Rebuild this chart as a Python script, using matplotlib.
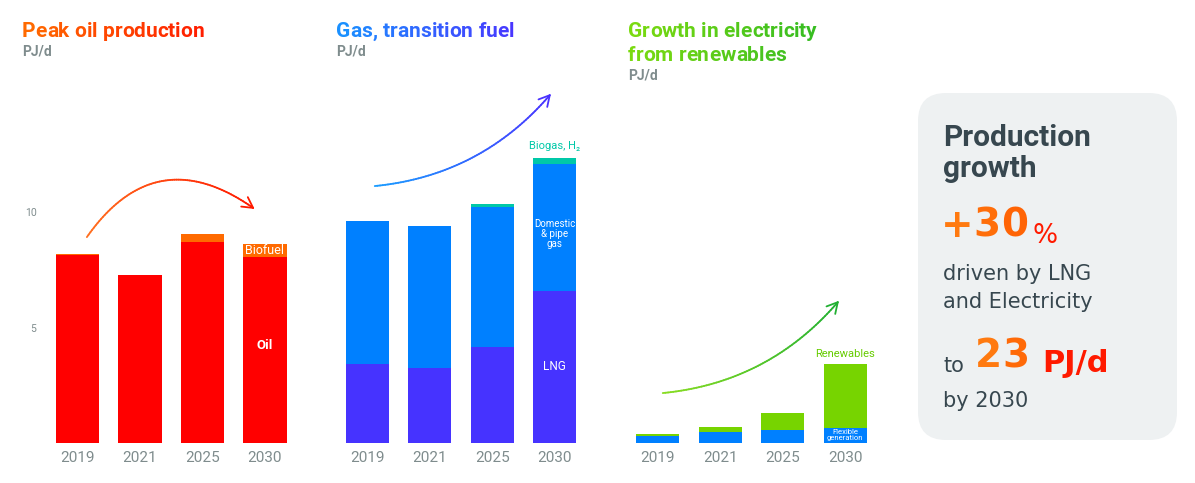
import numpy as np
import matplotlib
matplotlib.use("Agg")
import matplotlib.pyplot as plt
from matplotlib.patches import FancyBboxPatch
from matplotlib.collections import LineCollection
from matplotlib.colors import to_rgb
from matplotlib.transforms import IdentityTransform

plt.rcParams['font.family'] = ['Roboto', 'DejaVu Sans']

# data (PJ/d)
years = ['2019', '2021', '2025', '2030']
oil = [8.15, 7.28, 8.72, 8.08]
biofuel = [0.05, 0.0, 0.33, 0.53]
lng = [3.41, 3.24, 4.17, 6.60]
domestic = [6.22, 6.17, 6.07, 5.52]
biogas = [0.0, 0.0, 0.13, 0.26]
flexible = [0.30, 0.46, 0.56, 0.64]
renewables = [0.07, 0.21, 0.74, 2.76]

W, H = 1195, 483
fig = plt.figure(figsize=(W / 100, H / 100), dpi=100)
renderer = fig.canvas.get_renderer()


def fx(x):
    return x / W


def fy(y):
    return 1 - y / H


def mix(c1, c2, t):
    a, b = np.array(to_rgb(c1)), np.array(to_rgb(c2))
    return tuple(a + (b - a) * t)


def text_width(s, **kw):
    t = fig.text(0, 0, s + '|', **kw)
    w = t.get_window_extent(renderer).width
    t.remove()
    return w


def gradient_text(x, y, s, c1, c2, **kw):
    # draw a string letter by letter, colour going from c1 to c2
    base = text_width('', **kw)
    full = text_width(s, **kw) - base
    for i, ch in enumerate(s):
        if ch == ' ':
            continue
        off = text_width(s[:i], **kw) - base
        fig.text(fx(x + off), fy(y), ch, color=mix(c1, c2, off / full),
                 va='baseline', **kw)


def gradient_arrow(ax, p0, p1, rad, c1, c2, lw=1.3, head=12):
    # quadratic curve like arc3, drawn in pixels, with an open arrow head
    a = ax.transData.transform(p0)
    b = ax.transData.transform(p1)
    d = b - a
    c = (a + b) / 2 + rad * np.array([d[1], -d[0]])
    t = np.linspace(0, 1, 80)[:, None]
    pts = (1 - t) ** 2 * a + 2 * (1 - t) * t * c + t ** 2 * b
    segs = np.stack([pts[:-1], pts[1:]], axis=1)
    cols = [mix(c1, c2, v) for v in np.linspace(0, 1, len(segs))]
    fig.add_artist(LineCollection(segs, colors=cols, linewidths=lw,
                                  transform=IdentityTransform(), capstyle='round'))
    tang = b - c
    tang = tang / np.hypot(*tang)
    for ang in (0.5, -0.5):
        r = np.array([[np.cos(ang), -np.sin(ang)], [np.sin(ang), np.cos(ang)]])
        tip = b - head * (r @ tang)
        fig.add_artist(LineCollection([[b, tip]], colors=[c2], linewidths=lw,
                                      transform=IdentityTransform(), capstyle='round'))


GREY = '#7f8c8d'
DARK = '#37474f'

# axes placed in pixels: baseline at y=442.5, 23 px per PJ/d, 62.5 px per bar slot
ymax = 16
bottom = fy(442.5)
height = ymax * 23 / H
x = np.arange(len(years))
bw = 0.69


def make_ax(left_px):
    ax = fig.add_axes([fx(left_px), bottom, 250 / W, height])
    ax.set_xlim(-0.5, 3.5)
    ax.set_ylim(0, ymax)
    for s in ax.spines.values():
        s.set_visible(False)
    ax.set_xticks(x)
    ax.set_xticklabels(years, color=GREY, fontsize=11)
    ax.tick_params(axis='x', length=0, pad=6)
    ax.set_yticks([])
    ax.patch.set_alpha(0)
    return ax


# --- oil
ax1 = make_ax(46.25)
ax1.bar(x, oil, bw, color='#ff0000')
ax1.bar(x, biofuel, bw, bottom=oil, color='#ff6a00')
ax1.set_yticks([5, 10])
ax1.set_yticklabels(['5', '10'], color=GREY, fontsize=7.5)
ax1.tick_params(axis='y', length=0, pad=7)
ax1.text(3, oil[3] + biofuel[3] / 2, 'Biofuel', color='white', fontsize=9,
         ha='center', va='center')
ax1.text(3, 4.2, 'Oil', color='white', fontsize=9.5, ha='center', va='center',
         fontweight='bold')

# --- gas
ax2 = make_ax(336)
gas_mid = np.array(lng) + np.array(domestic)
ax2.bar(x, lng, bw, color='#4633ff')
ax2.bar(x, domestic, bw, bottom=lng, color='#0080ff')
ax2.bar(x, biogas, bw, bottom=gas_mid, color='#00c8a8')
ax2.text(3, lng[3] / 2, 'LNG', color='white', fontsize=8.5, ha='center', va='center')
ax2.text(3, lng[3] + domestic[3] * 0.45, 'Domestic\n& pipe\ngas', color='white',
         fontsize=7, ha='center', va='center', linespacing=1.0)
ax2.text(3, gas_mid[3] + biogas[3] + 0.3, 'Biogas, H\u2082', color='#00c8a8',
         fontsize=8, ha='center', va='bottom')

# --- electricity
ax3 = make_ax(626.5)
ax3.bar(x, flexible, bw, color='#0080ff')
ax3.bar(x, renewables, bw, bottom=flexible, color='#77d400')
ax3.text(3, flexible[3] + renewables[3] + 0.25, 'Renewables', color='#66cc00',
         fontsize=8, ha='center', va='bottom')
ax3.text(3, flexible[3] / 2, 'Flexible\ngeneration', color='white', fontsize=5.5,
         ha='center', va='center', linespacing=0.9)

# --- arrows
gradient_arrow(ax1, (0.15, 8.93), (2.81, 10.2), -0.5, '#ff7020', '#ff1a00')
gradient_arrow(ax2, (0.12, 11.15), (2.92, 15.1), 0.2, '#1a9cff', '#4a33ff')
gradient_arrow(ax3, (0.08, 2.15), (2.88, 6.1), 0.2, '#88dd22', '#22b033')

# --- titles
tkw = dict(fontsize=15, fontweight='bold')
gradient_text(22, 37, 'Peak oil production', '#ff6a00', '#ff1a00', **tkw)
gradient_text(336, 37, 'Gas, transition fuel', '#1a90ff', '#4a33ff', **tkw)
gradient_text(628, 37, 'Growth in electricity', '#7ada10', '#33bb22', **tkw)
gradient_text(628, 61, 'from renewables', '#7ada10', '#40bf22', **tkw)
fig.text(fx(22), fy(55), 'PJ/d', color=GREY, fontsize=10, fontweight='bold', va='baseline')
fig.text(fx(336), fy(55), 'PJ/d', color=GREY, fontsize=10, fontweight='bold', va='baseline')
fig.text(fx(628), fy(79), 'PJ/d', color=GREY, fontsize=10, fontweight='bold', va='baseline')

# --- summary box
box = FancyBboxPatch((9.18, 0.43), 2.59, 3.47,
                     boxstyle='round,pad=0,rounding_size=0.28',
                     transform=fig.dpi_scale_trans, facecolor='#eef1f2',
                     edgecolor='none', zorder=0)
fig.patches.append(box)
fig.text(fx(943), fy(146), 'Production', color=DARK, fontsize=21.5, fontweight='bold',
         va='baseline')
fig.text(fx(943), fy(177), 'growth', color=DARK, fontsize=21.5, fontweight='bold',
         va='baseline')
gradient_text(941, 237, '+30', '#ff7a10', '#ff5a00', family='DejaVu Sans',
              fontweight='bold', fontsize=28)
fig.text(fx(1033), fy(243), '%', color='#ff1a00', fontsize=19, family='DejaVu Sans',
         va='baseline')
body = dict(color=DARK, fontsize=15, family='DejaVu Sans', va='baseline')
fig.text(fx(943), fy(280), 'driven by LNG', **body)
fig.text(fx(943), fy(308), 'and Electricity', **body)
fig.text(fx(943), fy(372), 'to', **body)
gradient_text(975, 367, '23', '#ff7a10', '#ff5a00', family='DejaVu Sans',
              fontweight='bold', fontsize=28)
fig.text(fx(1042), fy(372), 'PJ/d', color='#ff1a00', fontsize=22, fontweight='bold',
         family='DejaVu Sans', va='baseline')
fig.text(fx(943), fy(407), 'by 2030', **body)

fig.savefig('out.png', dpi=100)
